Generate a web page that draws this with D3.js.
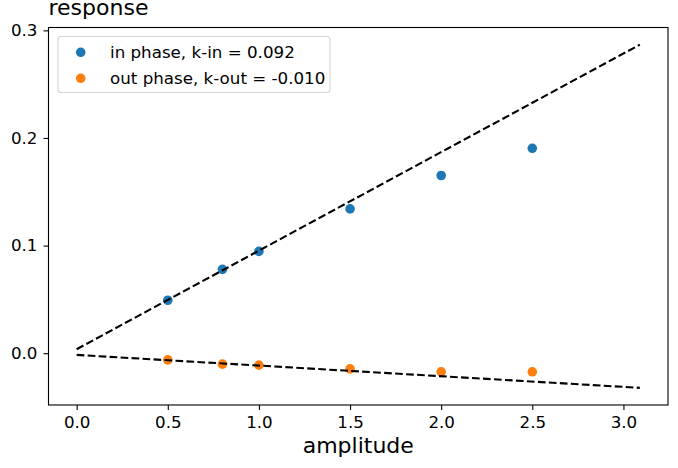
<!DOCTYPE html>
<html>
<head>
<meta charset="utf-8">
<script src="https://cdn.jsdelivr.net/npm/d3@7"></script>
<style>
  body { margin: 0; background: #fff; }
  svg { font-family: "DejaVu Sans", sans-serif; }
</style>
</head>
<body>
<div id="chart"></div>
<script>
// Data
const amplitude = [0.5, 0.8, 1.0, 1.5, 2.0, 2.5]
const inPhase = [0.0492, 0.0779, 0.0946, 0.1341, 0.1651, 0.1904]
const outPhase = [-0.0062, -0.0102, -0.0111, -0.0146, -0.0173, -0.0173]
const fitX = [0, 3.09]
const inFit = [0.0037, 0.2867]
const outFit = [-0.0016, -0.0322]
const xTicks = [0.0, 0.5, 1.0, 1.5, 2.0, 2.5, 3.0]
const yTicks = [0.0, 0.1, 0.2, 0.3]
const legendLabels = ["in phase, k-in = 0.092", "out phase, k-out = -0.010"]
const colors = ["#1f77b4", "#ff7f0e"]

const width = 678, height = 468
const plot = {left: 48.5, right: 668, top: 27.5, bottom: 405}

const svg = d3.select("#chart")
  .append("svg")
  .attr("width", width)
  .attr("height", height)

// matplotlib style 5% margins
function padded(vals) {
  const lo = d3.min(vals), hi = d3.max(vals), m = (hi - lo) * 0.05
  return [lo - m, hi + m]
}

const x = d3.scaleLinear()
  .domain(padded(fitX.concat(amplitude)))
  .range([plot.left, plot.right])
const y = d3.scaleLinear()
  .domain(padded(inFit.concat(outFit, inPhase, outPhase)))
  .range([plot.bottom, plot.top])

// Axes
const xAxis = svg.append("g")
  .attr("transform", "translate(0," + plot.bottom + ")")
  .call(d3.axisBottom(x).tickValues(xTicks).tickFormat(d3.format(".1f")).tickSize(5).tickPadding(6))
const yAxis = svg.append("g")
  .attr("transform", "translate(" + plot.left + ",0)")
  .call(d3.axisLeft(y).tickValues(yTicks).tickFormat(d3.format(".1f")).tickSize(5).tickPadding(6))

;[xAxis, yAxis].forEach(a => {
  a.select(".domain").remove()
  a.selectAll(".tick line").attr("stroke", "#000").attr("stroke-width", 1.1)
  a.selectAll(".tick text")
    .attr("font-size", 16.7)
    .attr("font-family", "DejaVu Sans")
    .attr("fill", "#000")
})

// Points
const series = [inPhase, outPhase]
series.forEach((vals, k) => {
  svg.append("g")
    .selectAll("circle")
    .data(vals)
    .enter()
    .append("circle")
      .attr("cx", (d, i) => x(amplitude[i]))
      .attr("cy", d => y(d))
      .attr("r", 4.8)
      .attr("fill", colors[k])
})

// Fit lines (drawn over the points)
const line = d3.line()
  .x((d, i) => x(fitX[i]))
  .y(d => y(d))
;[inFit, outFit].forEach(f => {
  svg.append("path")
    .attr("d", line(f))
    .attr("fill", "none")
    .attr("stroke", "#000")
    .attr("stroke-width", 2.1)
    .attr("stroke-dasharray", "7.7,3.3")
})

// Frame
svg.append("rect")
  .attr("x", plot.left)
  .attr("y", plot.top)
  .attr("width", plot.right - plot.left)
  .attr("height", plot.bottom - plot.top)
  .attr("fill", "none")
  .attr("stroke", "#000")
  .attr("stroke-width", 1.1)

// Axis labels
svg.append("text")
  .attr("x", (plot.left + plot.right) / 2)
  .attr("y", 453)
  .attr("text-anchor", "middle")
  .attr("font-size", 22)
  .text("amplitude")
svg.append("text")
  .attr("x", plot.left)
  .attr("y", 15)
  .attr("font-size", 22)
  .text("response")

// Legend
const legend = svg.append("g")
legend.append("rect")
  .attr("x", 58)
  .attr("y", 36.5)
  .attr("width", 272)
  .attr("height", 56)
  .attr("rx", 3)
  .attr("fill", "#fff")
  .attr("fill-opacity", 0.8)
  .attr("stroke", "#d6d6d6")
  .attr("stroke-width", 1.1)
legendLabels.forEach((lab, k) => {
  legend.append("circle")
    .attr("cx", 80.7)
    .attr("cy", 52.3 + k * 26)
    .attr("r", 4.8)
    .attr("fill", colors[k])
  legend.append("text")
    .attr("x", 110)
    .attr("y", 58 + k * 26)
    .attr("font-size", 16.7)
    .text(lab)
})
</script>
</body>
</html>
